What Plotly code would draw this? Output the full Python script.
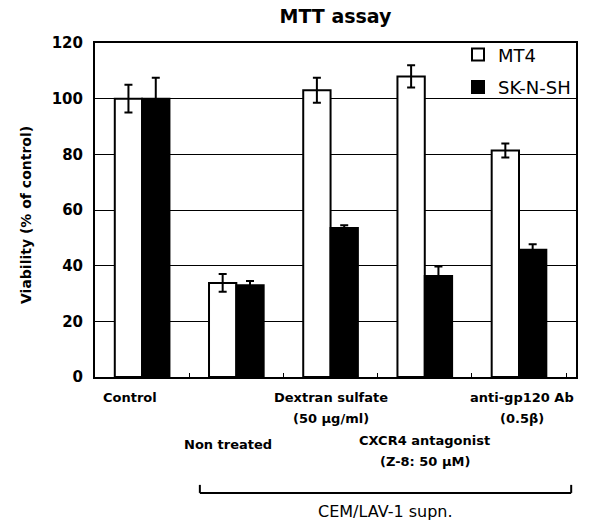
import plotly.graph_objects as go

# ---- data ----
categories = ["Control", "Non treated", "Dextran sulfate", "CXCR4 antagonist", "anti-gp120 Ab"]
mt4_values = [100, 33.8, 103, 108, 81.4]
mt4_errors = [5, 3.2, 4.5, 4, 2.5]
sk_values = [100, 33, 53.5, 36.3, 45.7]
sk_errors = [7.5, 1.5, 1, 3.4, 2]
series_names = ["MT4", "SK-N-SH"]
y_ticks = [0, 20, 40, 60, 80, 100, 120]

# category label lines
label_lines = {
    "Control": ["Control"],
    "Non treated": ["Non treated"],
    "Dextran sulfate": ["Dextran sulfate", "(50 μg/ml)"],
    "CXCR4 antagonist": ["CXCR4 antagonist", "(Z-8: 50 μM)"],
    "anti-gp120 Ab": ["anti-gp120 Ab", "(0.5β)"],
}
bracket_label = "CEM/LAV-1 supn."

FONT = "DejaVu Sans, Liberation Sans, Arial, sans-serif"

fig = go.Figure()
fig.add_trace(go.Bar(
    x=categories, y=mt4_values, name=series_names[0],
    marker=dict(color="white", line=dict(color="black", width=2)),
    error_y=dict(type="data", array=mt4_errors, color="black", thickness=2, width=4),
    legendgroup="a",
))
fig.add_trace(go.Bar(
    x=categories, y=sk_values, name=series_names[1],
    marker=dict(color="black", line=dict(color="black", width=2)),
    error_y=dict(type="data", array=sk_errors, color="black", thickness=2, width=4),
    legendgroup="b",
))

# pixel offsets below the x axis for first line of each label, and horizontal nudges
first_line_offset = {
    "Control": 20, "Dextran sulfate": 20, "anti-gp120 Ab": 20,
    "Non treated": 67, "CXCR4 antagonist": 63,
}
label_xshift = {
    "Control": -12, "Dextran sulfate": 0, "anti-gp120 Ab": 3,
    "Non treated": -8, "CXCR4 antagonist": 0,
}
line_step = 21

annotations = []
for cat, lines in label_lines.items():
    for i, t in enumerate(lines):
        annotations.append(dict(
            x=cat, xref="x", xshift=label_xshift[cat], y=0, yref="paper", yanchor="middle",
            yshift=-(first_line_offset[cat] + line_step * i), text=t, showarrow=False,
            font=dict(size=13, family=FONT, color="black", weight="bold"),
        ))
annotations.append(dict(
    x=0.603, xref="paper", y=0, yref="paper", yanchor="middle", yshift=-134,
    text=bracket_label, showarrow=False,
    font=dict(size=16, family=FONT, color="black"),
))
# y-axis title
annotations.append(dict(
    x=0, xref="paper", xshift=-79, y=0.5, yref="paper", yshift=-5, textangle=-90,
    text="Viability (% of control)", showarrow=False,
    font=dict(size=14, family=FONT, color="black", weight="bold"),
))

shapes = [
    dict(type="line", xref="paper", yref="paper", x0=0.218, x1=0.99, y0=-0.347, y1=-0.347,
         line=dict(color="black", width=2)),
    dict(type="line", xref="paper", yref="paper", x0=0.218, x1=0.218, y0=-0.347, y1=-0.323,
         line=dict(color="black", width=2)),
    dict(type="line", xref="paper", yref="paper", x0=0.99, x1=0.99, y0=-0.347, y1=-0.323,
         line=dict(color="black", width=2)),
]

fig.update_layout(
    width=594, height=521,
    margin=dict(l=95, r=18, t=43, b=144),
    paper_bgcolor="white", plot_bgcolor="white",
    barmode="group", bargap=0.42, bargroupgap=0,
    title=dict(text="MTT assay", xref="paper", x=0.5, xanchor="center",
               yref="container", y=1 - 16 / 521, yanchor="middle",
               font=dict(size=19, family=FONT, color="black", weight="bold")),
    font=dict(family=FONT, color="black"),
    showlegend=True,
    legend=dict(x=1.0, xanchor="right", y=1.02, yanchor="top", bgcolor="rgba(0,0,0,0)",
                font=dict(size=18, family=FONT, color="black"),
                traceorder="grouped", tracegroupgap=6, itemwidth=30),
    annotations=annotations,
    shapes=shapes,
)
fig.update_xaxes(
    showticklabels=False, showline=True, linecolor="black", linewidth=2, mirror=True,
    ticks="inside", tickson="boundaries", ticklen=4, tickcolor="black",
    showgrid=False, zeroline=False,
)
fig.update_yaxes(
    range=[0, 120], tickvals=y_ticks, showline=True, linecolor="black", linewidth=2, mirror=True,
    showgrid=True, gridcolor="black", gridwidth=1, zeroline=False, ticks="",
    tickfont=dict(size=15, family=FONT, color="black", weight="bold"), ticklabelstandoff=7,
)

fig.write_html("out.html")
